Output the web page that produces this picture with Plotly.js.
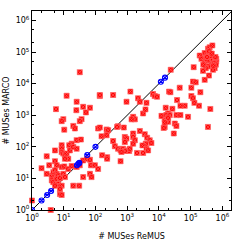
<!DOCTYPE html>
<html>
<head>
<meta charset="utf-8">
<script src="https://cdn.plot.ly/plotly-3.0.1.min.js"></script>
<style>html,body{margin:0;padding:0;background:#fff;}#plot{width:243px;height:243px;}</style>
</head>
<body>
<div id="plot"></div>
<script>
// Red points: instances where counts differ (x = # MUSes ReMUS, y = # MUSes MARCO)
var remusX = [
  5.7,25.5,25,41,50,67,137,9.7,8.6,36.5,32,10.4,20,22.5,121,233,25.5,34.7,17.7,14.9,
  8.6,8.6,8.6,9.7,10.9,12.3,15.6,20,25.5,13.9,10.9,5.3,2.9,3.5,2.0,5.3,6,8.6,10.4,13.9,
  17.7,25.5,32,41,55,67,72,96,121,67,75,41,233,162,2.9,4.2,4.7,5.3,6,6.7,
  4.2,4.7,6,7.6,9.7,10.9,6.7,5.3,8.6,7.6,7.6,8.6,20,30.7,1,3.9,12.3,32,
  137,360,1260,2190,950,2500,4050,6500,7350,8700,20800,3170,3760,1540,1740,1370,12900,15200,17300,19400,
  15200,19400,515,780,224,251,137,155,1540,2500,3570,4250,5130,5780,3830,3020,4050,4550,3170,2040,
  1540,1740,1540,840,950,840,360,407,515,617,740,950,1150,1200,840,660,233,617,480,224,
  23500,124000,245000,276000,350000,395000,483000,377000,192000,218000,276000,311000,395000,505000,640000,640000,449000,350000,297000,570000,
  505000,245000,377000,276000,118000,105000,144000,45000,23000,202000,105000,118000,37200,131000,64700,47500,183000,416000,16300,12000,
  17300,21900,35500,47500,82600,19400,15200,31600,35500,14100,29300,350000,
  420000,560000,600000,330000,460000,250000,620000,520000,26500
];
var marcoY = [
  1560,2680,1440,1850,1230,1730,4050,750,650,750,650,350,460,380,380,335,162,170,126,112,
  112,87,68,61,54,61,77,99,87,42,42,77,50,26,21,35,26,23,24,20,
  24.5,23,26,37,42,39,26,26,20,14,11,11,47,54,14,12.3,15.8,18,14,12.3,
  8.6,7.6,9.7,10.2,14,11,6.7,5.9,5.9,4.7,3.2,3.0,5.9,5.9,2,1,4150,23000,
  4370,4370,5600,3440,2680,2680,2470,4700,4050,3860,5600,1140,1530,890,740,740,940,740,1010,620,
  427,1140,450,408,355,335,408,215,264,318,250,195,161,132,126,111,87,77,64,64,
  205,161,126,205,182,142,153,104,87,77,87,77,74,87,74,69,42,35,427,232,
  27500,33200,64600,93000,128000,141000,162000,105000,77500,61200,50100,61200,52700,56600,61200,50100,39400,34800,31000,31000,
  27500,25400,18000,13200,11600,7460,11000,7460,5350,5350,4050,3440,3020,2470,2000,2000,2000,1580,1730,955,
  1010,1010,1010,1010,890,830,590,545,460,398,264,427,
  75000,45000,70000,70000,90000,40000,40000,37000,1600
];
// Blue points: instances where both tools agree
var equalX = [1,2,3,4,26,29,31,55,100,11500,15500];
var equalY = [1,2,3,4,26,29,31,55,100,11500,15500];
// Diagonal y = x
var diagX = [1, 2000000];
var diagY = [1, 2000000];
var tickVals = [1,10,100,1000,10000,100000,1000000];
var tickText = ['10<sup>0</sup>','10<sup>1</sup>','10<sup>2</sup>','10<sup>3</sup>','10<sup>4</sup>','10<sup>5</sup>','10<sup>6</sup>'];

var axisBase = {
  type: 'log',
  tickmode: 'array',
  tickvals: tickVals,
  ticktext: tickText,
  ticks: 'inside',
  ticklen: 4,
  tickcolor: '#000',
  showline: true,
  linecolor: '#000',
  linewidth: 1,
  mirror: 'allticks',
  showgrid: false,
  zeroline: false,
  tickfont: {family: 'DejaVu Sans', size: 8, color: '#000'},
  minor: {ticks: 'inside', ticklen: 2, tickcolor: '#000', tickmode: 'linear', dtick: 'D2', showgrid: false}
};

var xaxis = Object.assign({}, axisBase, {
  range: [0, 6.27],
  title: {text: '# MUSes ReMUS', font: {family: 'DejaVu Sans', size: 8, color: '#000'}, standoff: 11}
});
var yaxis = Object.assign({}, axisBase, {
  range: [0, 6.3],
  title: {text: '# MUSes MARCO', font: {family: 'DejaVu Sans', size: 8, color: '#000'}, standoff: 4}
});

var traces = [
  {x: diagX, y: diagY, mode: 'lines', line: {color: '#000', width: 1}, hoverinfo: 'skip', showlegend: false},
  {x: remusX, y: marcoY, mode: 'markers',
   marker: {symbol: 'square-x', size: 5, color: '#ff0000', line: {color: '#ff6060', width: 0.7}},
   showlegend: false, cliponaxis: false},
  {x: equalX, y: equalY, mode: 'markers',
   marker: {symbol: 'circle-x-open', size: 5, color: '#0000ff', line: {width: 1.1}},
   showlegend: false}
];

var layout = {
  width: 243, height: 243,
  margin: {l: 32, r: 12, t: 11, b: 33},
  paper_bgcolor: '#fff', plot_bgcolor: '#fff',
  xaxis: xaxis, yaxis: yaxis,
  showlegend: false
};

Plotly.newPlot('plot', traces, layout, {staticPlot: true, displayModeBar: false});
</script>
</body>
</html>
